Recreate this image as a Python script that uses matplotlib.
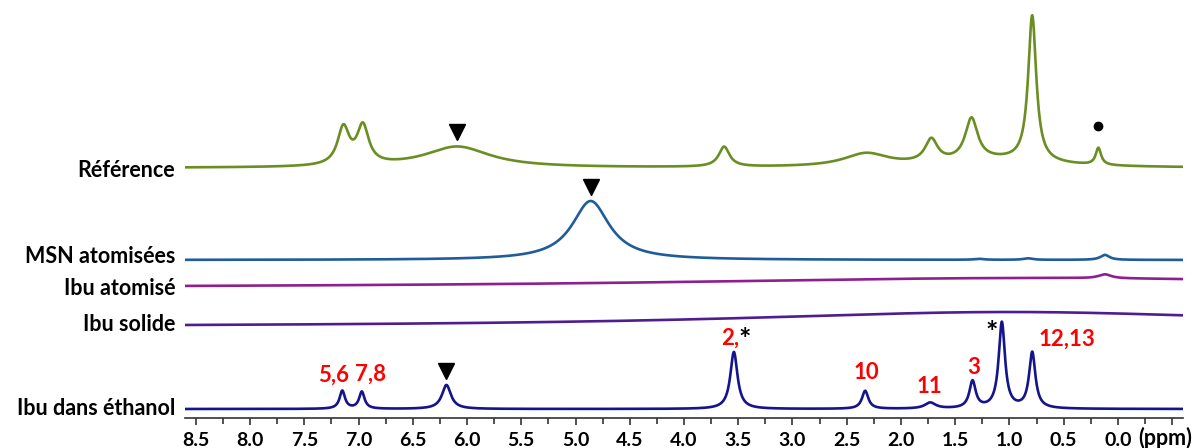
"""
Stacked 1H NMR spectra of ibuprofen samples
"""
import numpy as np
import matplotlib
matplotlib.use("Agg")
import matplotlib.pyplot as plt

plt.rcParams['font.family'] = ['Lato', 'DejaVu Sans']

# Peak tables: position (ppm), height, half-width (ppm)
ref_ppm = [7.14, 6.96, 6.09, 3.63, 2.32, 1.72, 1.35, 1.10, 0.79, 0.18]
ref_height = [37, 38, 21, 20, 13, 23, 42, 7, 146, 17]
ref_width = [0.065, 0.065, 0.37, 0.06, 0.25, 0.07, 0.07, 0.6, 0.045, 0.03]

msn_ppm = [4.86, 1.28, 0.83, 0.12]
msn_height = [59, 1.0, 1.5, 5]
msn_width = [0.21, 0.05, 0.05, 0.05]

ibu_atom_ppm = [0.8, 0.12]
ibu_atom_height = [10, 4]
ibu_atom_width = [4.0, 0.07]

ibu_sol_ppm = [1.0]
ibu_sol_height = [15]
ibu_sol_width = [3.0]

ibu_eth_ppm = [7.15, 6.97, 6.19, 3.54, 2.33, 1.73, 1.34, 1.07, 0.79]
ibu_eth_height = [18, 17, 24, 57, 18, 6, 27, 86, 56]
ibu_eth_width = [0.03, 0.03, 0.05, 0.04, 0.035, 0.06, 0.035, 0.035, 0.035]

names = ["Référence", "MSN atomisées", "Ibu atomisé", "Ibu solide", "Ibu dans éthanol"]
colors = ["#6B8E23", "#1F5C99", "#8E1F8E", "#4F1D91", "#14148C"]
offsets = [250, 158, 130, 91, 9]
label_y = [248, 162, 130, 94, 10]

tick_values = np.arange(8.5, -0.51, -0.5)
tick_labels = ["%.1f" % abs(v) if v > -0.25 else "" for v in tick_values]
unit_label = "(ppm)"


def spectrum(x, centers, heights, widths):
    y = np.zeros_like(x)
    for c, h, w in zip(centers, heights, widths):
        y += h / (1 + ((x - c) / w) ** 2)
    return y


x = np.linspace(8.6, -0.6, 4000)
tables = [(ref_ppm, ref_height, ref_width),
          (msn_ppm, msn_height, msn_width),
          (ibu_atom_ppm, ibu_atom_height, ibu_atom_width),
          (ibu_sol_ppm, ibu_sol_height, ibu_sol_width),
          (ibu_eth_ppm, ibu_eth_height, ibu_eth_width)]

fig = plt.figure(figsize=(11.96, 4.48), dpi=100)
ax = fig.add_axes([185 / 1196, 30 / 448, 998 / 1196, 418 / 448])

for (c, h, w), name, col, off, ly in zip(tables, names, colors, offsets, label_y):
    ax.plot(x, off + spectrum(x, c, h, w), color=col, lw=1.9)
    ax.text(8.69, ly, name, ha="right", va="center", fontsize=15.5,
            fontweight="bold", color="black", clip_on=False)

# markers for the solvent / impurity signals
ax.plot([6.09], [286], marker="v", color="black", ms=12, ls="none")
ax.plot([4.86], [231], marker="v", color="black", ms=12, ls="none")
ax.plot([6.19], [47], marker="v", color="black", ms=12, ls="none")
ax.plot([0.18], [292], marker="o", color="black", ms=6, ls="none")

# proton assignments
red = "#FF0000"
assign = [("5,6", 7.23, 43), ("7,8", 6.89, 44), ("10", 2.32, 46),
          ("11", 1.74, 32), ("3", 1.33, 51), ("12,13", 0.47, 79)]
for txt, px, py in assign:
    ax.text(px, py, txt, ha="center", va="center", color=red,
            fontsize=16, fontweight="bold")
ax.text(3.49, 80, "2,", ha="right", va="center", color=red,
        fontsize=16, fontweight="bold")
ax.text(3.50, 78, "*", ha="left", va="center", color="black",
        fontsize=21, fontweight="bold")
ax.text(1.16, 85, "*", ha="center", va="center", color="black",
        fontsize=21, fontweight="bold")

ax.set_xlim(8.6, -0.6)
ax.set_ylim(0, 418)
for s in ["top", "left", "right"]:
    ax.spines[s].set_visible(False)
ax.spines["bottom"].set_linewidth(1.2)
ax.spines["bottom"].set_color("#333333")
ax.set_yticks([])
ax.set_xticks(tick_values)
ax.set_xticklabels(tick_labels, fontsize=14, fontweight="bold")
ax.text(-0.44, -20, unit_label, ha="center", va="center", fontsize=15.5,
        fontweight="bold", clip_on=False)
ax.set_xticks(np.arange(8.25, -0.6, -0.5), minor=True)
ax.tick_params(axis="x", which="major", length=5, width=1.2, pad=5, color="#333333")
ax.tick_params(axis="x", which="minor", length=4, width=1.2, color="#333333")

fig.savefig("out.png", dpi=100)
